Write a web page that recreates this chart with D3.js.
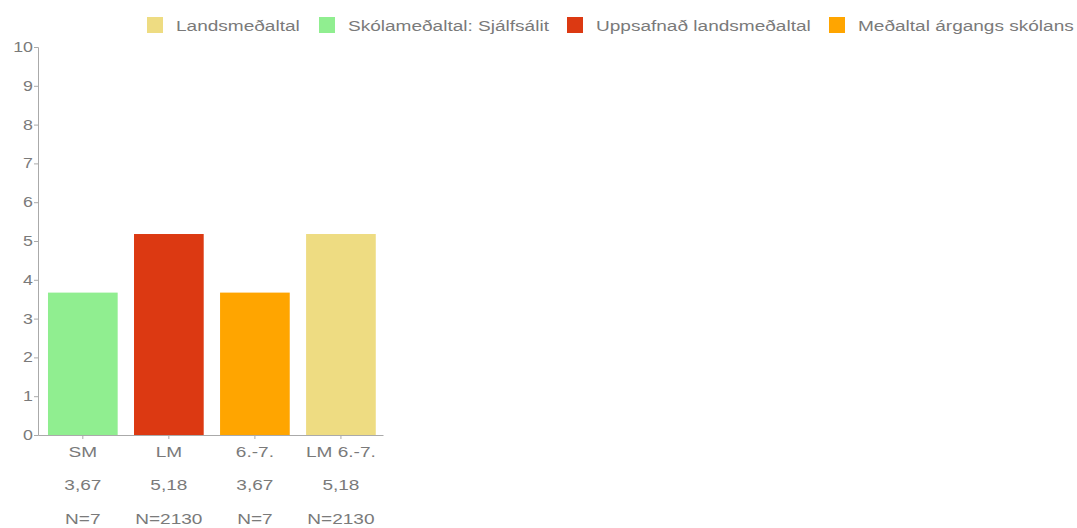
<!DOCTYPE html>
<html>
<head>
<meta charset="utf-8">
<script src="https://cdn.jsdelivr.net/npm/d3@7"></script>
<style>
  body { margin: 0; background: #fff; }
  svg text { font-family: "Liberation Sans", Arial, sans-serif; fill: #7a7a7a; }
  .axis path, .axis line { stroke: #aaa; }
</style>
</head>
<body>
<svg id="chart" width="1077" height="528"></svg>
<script>
// chart data
const categories = ['SM', 'LM', '6.-7.', 'LM 6.-7.'];
const values = [3.67, 5.18, 3.67, 5.18];
const valueLabels = ['3,67', '5,18', '3,67', '5,18'];
const counts = ['N=7', 'N=2130', 'N=7', 'N=2130'];
const barColors = ['#90ee90', '#dc3912', '#ffa500', '#eedc82'];
const legendNames = ['Landsmeðaltal', 'Skólameðaltal: Sjálfsálit', 'Uppsafnað landsmeðaltal', 'Meðaltal árgangs skólans'];
const legendColors = ['#eedc82', '#90ee90', '#dc3912', '#ffa500'];
const yTicks = [0, 1, 2, 3, 4, 5, 6, 7, 8, 9, 10];

// the text in the original is drawn wide, so stretch it sideways
const stretch = 1.27;

const svg = d3.select('#chart');
const margin = {top: 47, left: 38};
const width = 345, height = 388;

const g = svg.append('g')
    .attr('transform', 'translate(' + margin.left + ',' + margin.top + ')');

const x = d3.scaleBand().domain(categories).range([0, width])
    .paddingInner(0.19).paddingOuter(0.1).align(0.58);
const y = d3.scaleLinear().domain([0, 10]).range([height, 0]);

// y axis
const yAxis = g.append('g').attr('class', 'axis')
    .call(d3.axisLeft(y).tickValues(yTicks).tickSize(4));
yAxis.selectAll('text')
    .attr('x', 0)
    .attr('transform', 'translate(-5,0) scale(' + stretch + ',1)')
    .style('font-size', '14px');

// bars
g.selectAll('rect.bar')
    .data(values)
    .enter().append('rect')
    .attr('class', 'bar')
    .attr('x', (d, i) => x(categories[i]))
    .attr('y', d => y(d))
    .attr('width', x.bandwidth())
    .attr('height', d => height - y(d))
    .attr('fill', (d, i) => barColors[i]);

// x axis
const xAxis = g.append('g').attr('class', 'axis')
    .attr('transform', 'translate(0,' + height + ')')
    .call(d3.axisBottom(x).tickSize(4).tickSizeOuter(0));
xAxis.selectAll('text')
    .attr('y', 0).attr('dy', null)
    .attr('transform', 'translate(0,21.5) scale(' + stretch + ',1)')
    .style('font-size', '15px');

// value and N rows under the axis
[valueLabels, counts].forEach((row, r) => {
    g.selectAll('text.row' + r)
        .data(row)
        .enter().append('text')
        .attr('class', 'row' + r)
        .attr('transform', (d, i) => 'translate(' + (x(categories[i]) + x.bandwidth() / 2) + ','
            + (height + 54.5 + r * 34) + ') scale(' + stretch + ',1)')
        .attr('text-anchor', 'middle')
        .style('font-size', '15px')
        .text(d => d);
});

// legend
const legendX = [147, 319, 567, 829];
const legend = svg.append('g');
legendNames.forEach((name, i) => {
    const item = legend.append('g').attr('transform', 'translate(' + legendX[i] + ',17)');
    item.append('rect').attr('width', 16).attr('height', 16).attr('fill', legendColors[i]);
    item.append('text')
        .attr('transform', 'translate(29,13.5) scale(' + stretch + ',1)')
        .style('font-size', '15px')
        .text(name);
});
</script>
</body>
</html>
